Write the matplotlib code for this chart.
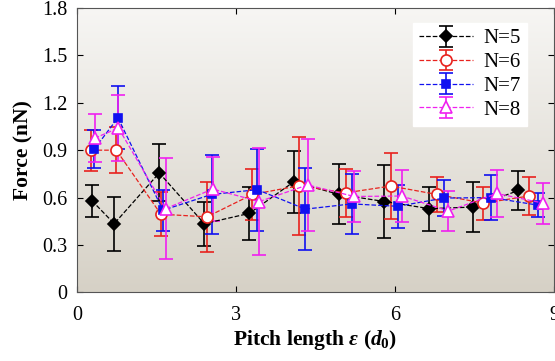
import matplotlib
matplotlib.use('Agg')
import matplotlib.pyplot as plt
import numpy as np
from matplotlib.colors import LinearSegmentedColormap

plt.rcParams['font.family'] = ['Liberation Serif', 'DejaVu Serif']
plt.rcParams['mathtext.fontset'] = 'custom'
plt.rcParams['mathtext.rm'] = 'Liberation Serif:bold'
plt.rcParams['mathtext.it'] = 'Liberation Serif:bold:italic'
plt.rcParams['mathtext.bf'] = 'Liberation Serif:bold'

# data
labels = ['N=5', 'N=6', 'N=7', 'N=8']

x5 = [0.28, 0.70, 1.55, 2.40, 3.25, 4.09, 4.94, 5.80, 6.65, 7.48, 8.33]
y5 = [0.58, 0.435, 0.756, 0.435, 0.50, 0.70, 0.62, 0.575, 0.53, 0.54, 0.645]
e5 = [0.10, 0.17, 0.18, 0.14, 0.17, 0.195, 0.19, 0.23, 0.14, 0.16, 0.125]

x6 = [0.26, 0.74, 1.58, 2.45, 3.31, 4.19, 5.07, 5.92, 6.79, 7.67, 8.53]
y6 = [0.90, 0.90, 0.495, 0.478, 0.62, 0.675, 0.63, 0.673, 0.62, 0.565, 0.61]
e6 = [0.13, 0.145, 0.14, 0.22, 0.16, 0.31, 0.15, 0.21, 0.11, 0.105, 0.12]

x7 = [0.32, 0.77, 1.62, 2.54, 3.40, 4.31, 5.18, 6.05, 6.93, 7.82, 8.70]
y7 = [0.905, 1.105, 0.52, 0.62, 0.65, 0.527, 0.56, 0.545, 0.597, 0.60, 0.552]
e7 = [0.12, 0.20, 0.13, 0.25, 0.26, 0.26, 0.19, 0.135, 0.115, 0.14, 0.075]

x8 = [0.33, 0.78, 1.67, 2.56, 3.44, 4.35, 5.23, 6.13, 7.01, 7.92, 8.80]
y8 = [0.976, 1.04, 0.53, 0.654, 0.575, 0.68, 0.607, 0.61, 0.515, 0.626, 0.565]
e8 = [0.15, 0.21, 0.32, 0.20, 0.34, 0.29, 0.16, 0.165, 0.125, 0.15, 0.13]

fig = plt.figure(figsize=(5.55, 3.61), dpi=100)
ax = fig.add_axes([0.139, 0.190, 0.859, 0.788])

# grey gradient background
bg = LinearSegmentedColormap.from_list('bg', ['#d6d1c6', '#f7f6f4'])
grad = np.linspace(0, 1, 256).reshape(-1, 1)
ax.imshow(grad, extent=[0, 9, 0, 1.8], origin='lower', aspect='auto',
          cmap=bg, zorder=0)

styles = [
    (x5, y5, e5, 'black', 'D', 'black', 6),
    (x6, y6, e6, '#e8221e', 'o', 'white', 8),
    (x7, y7, e7, '#1010f0', 's', '#1010f0', 6),
    (x8, y8, e8, '#f020f0', '^', 'white', 9),
]
for (x, y, e, c, m, fc, ms), lab in zip(styles, labels):
    ax.errorbar(x, y, yerr=e, color=c, ls='--', lw=0.9, marker=m, ms=ms,
                mfc=fc, mec=c, mew=1.2, ecolor=c, elinewidth=1.2,
                capsize=5, capthick=1.2, label=lab, zorder=3)

ax.set_xlim(0, 9)
ax.set_ylim(0, 1.8)
ax.set_xticks([0, 3, 6, 9])
ax.set_xticklabels(['0', '3', '6', '9'])
ax.set_yticks([0, 0.3, 0.6, 0.9, 1.2, 1.5, 1.8])
ax.set_yticklabels(['0', '0.3', '0.6', '0.9', '1.2', '1.5', '1.8'])
ax.tick_params(direction='in', top=True, right=True, labelsize=14.5,
               length=4, width=0.8)
ax.tick_params(axis='x', pad=10)
ax.tick_params(axis='y', pad=7)
for s in ax.spines.values():
    s.set_color('#555555')

ax.set_xlabel(r'Pitch length $\varepsilon$ ($d_0$)', fontsize=15.5,
              fontweight='bold', labelpad=2)
ax.set_ylabel('Force (nN)', fontsize=15.5, fontweight='bold', labelpad=6)

leg = ax.legend(loc='upper right', bbox_to_anchor=(0.966, 0.985), fontsize=15,
                frameon=True, fancybox=False, edgecolor='white',
                handlelength=2.6, labelspacing=0.2, borderpad=0.3,
                handletextpad=0.5)
leg.get_frame().set_facecolor('white')
leg.get_frame().set_alpha(1)

fig.savefig('out.png', dpi=100)
